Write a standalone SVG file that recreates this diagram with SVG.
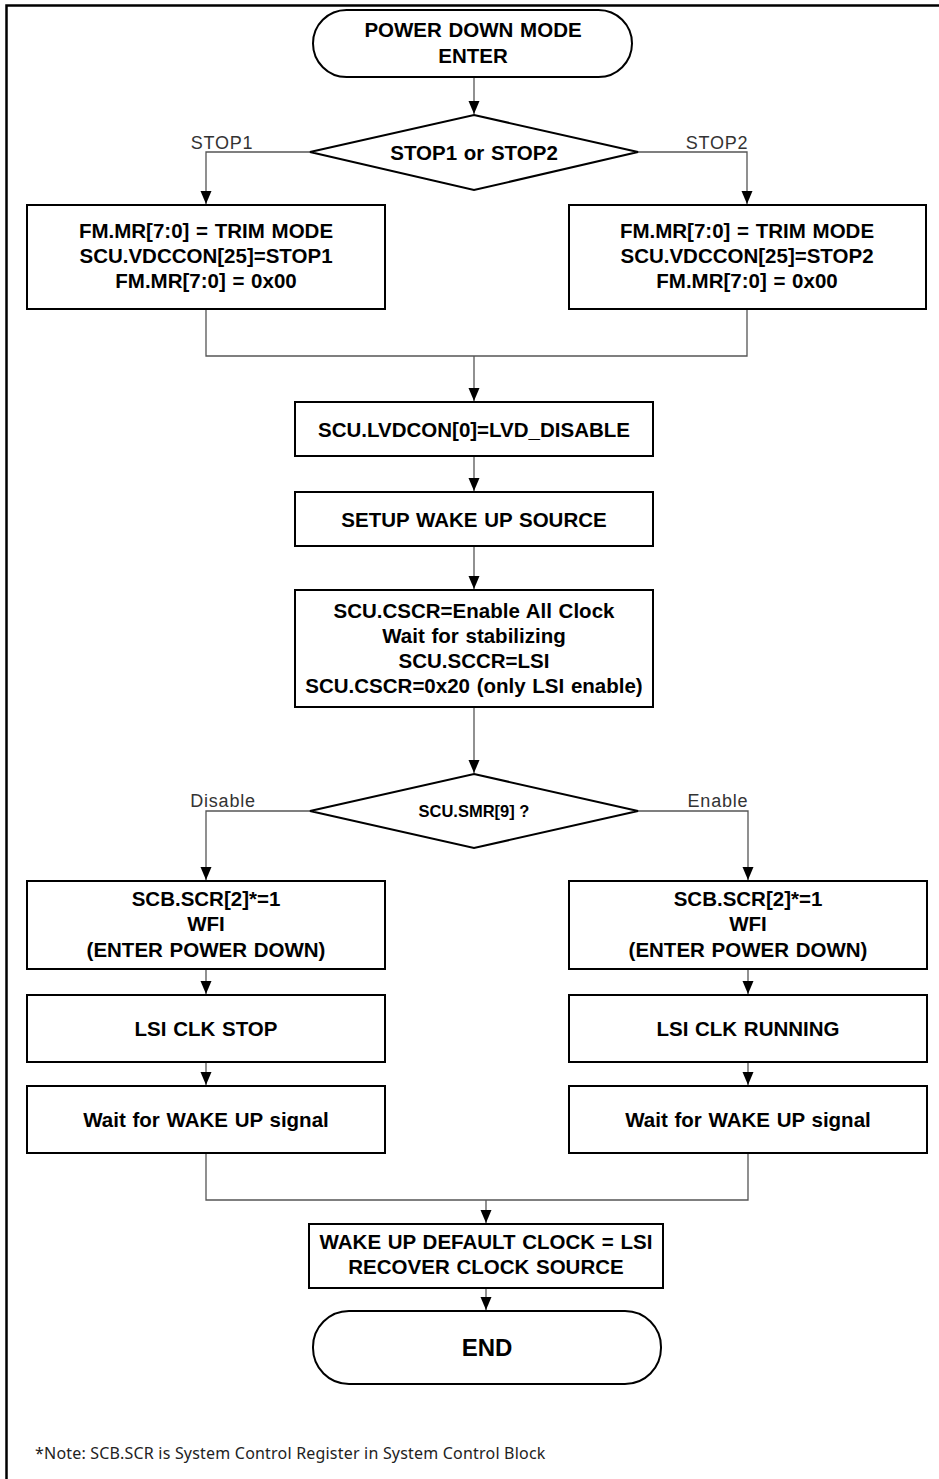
<svg xmlns="http://www.w3.org/2000/svg" width="939" height="1479" viewBox="0 0 939 1479">
<style>
.shape{fill:#fff;stroke:#000;stroke-width:2}
.t{font-family:"Liberation Sans",Arial,sans-serif;font-weight:bold;font-size:20.5px;word-spacing:1px;fill:#000;text-anchor:middle}
.ts{font-family:"Liberation Sans",Arial,sans-serif;font-weight:bold;font-size:16.5px;fill:#000;text-anchor:middle}
.lbl{font-family:"Liberation Sans","DejaVu Sans",sans-serif;font-size:18px;letter-spacing:0.8px;fill:#333;text-anchor:middle}
.note{font-family:"Noto Sans","Open Sans",sans-serif;font-size:16px;letter-spacing:0.2px;fill:#222}
.c{fill:none;stroke:#555;stroke-width:1.3}
</style>
<defs>
<marker id="ah" markerUnits="userSpaceOnUse" markerWidth="13" markerHeight="12" refX="13" refY="6" orient="auto" viewBox="0 0 13 12">
<path d="M0,0.5 L13,6 L0,11.5 Z" fill="#000"/>
</marker>
</defs>
<path d="M6.5,1479 V5.5 H939" fill="none" stroke="#000" stroke-width="2.5"/>

<g id="connectors">
<path class="c" d="M474,77 V114" marker-end="url(#ah)"/>
<path class="c" d="M310,152 H206 V204" marker-end="url(#ah)"/>
<path class="c" d="M638,152 H747 V204" marker-end="url(#ah)"/>
<path class="c" d="M206,309 V356 H747 V309"/>
<path class="c" d="M474,356 V401" marker-end="url(#ah)"/>
<path class="c" d="M474,456 V491" marker-end="url(#ah)"/>
<path class="c" d="M474,546 V589" marker-end="url(#ah)"/>
<path class="c" d="M474,707 V773" marker-end="url(#ah)"/>
<path class="c" d="M310,811 H206 V880" marker-end="url(#ah)"/>
<path class="c" d="M638,811 H748 V880" marker-end="url(#ah)"/>
<path class="c" d="M206,969 V994" marker-end="url(#ah)"/>
<path class="c" d="M748,969 V994" marker-end="url(#ah)"/>
<path class="c" d="M206,1062 V1085" marker-end="url(#ah)"/>
<path class="c" d="M748,1062 V1085" marker-end="url(#ah)"/>
<path class="c" d="M206,1153 V1200 H748 V1153"/>
<path class="c" d="M486,1200 V1223" marker-end="url(#ah)"/>
<path class="c" d="M486,1288 V1310" marker-end="url(#ah)"/>
</g>
<g id="labels">
<text class="lbl" x="222" y="149">STOP1</text>
<text class="lbl" x="717" y="149">STOP2</text>
<text class="lbl" x="223" y="807">Disable</text>
<text class="lbl" x="718" y="807">Enable</text>
</g>

<g id="start">
<rect class="shape" x="313" y="10" width="319" height="67" rx="33.5"/>
<text class="t" x="473" y="37">POWER DOWN MODE</text>
<text class="t" x="473" y="63">ENTER</text>
</g>
<g id="dec1">
<polygon class="shape" points="474,115 638,152 474,190 310,152"/>
<text class="t" x="474" y="160">STOP1 or STOP2</text>
</g>
<g id="stop1">
<rect class="shape" x="27" y="205" width="358" height="104"/>
<text class="t" x="206" y="238">FM.MR[7:0] = TRIM MODE</text>
<text class="t" x="206" y="263">SCU.VDCCON[25]=STOP1</text>
<text class="t" x="206" y="288">FM.MR[7:0] = 0x00</text>
</g>
<g id="stop2">
<rect class="shape" x="569" y="205" width="357" height="104"/>
<text class="t" x="747" y="238">FM.MR[7:0] = TRIM MODE</text>
<text class="t" x="747" y="263">SCU.VDCCON[25]=STOP2</text>
<text class="t" x="747" y="288">FM.MR[7:0] = 0x00</text>
</g>
<g id="lvd">
<rect class="shape" x="295" y="402" width="358" height="54"/>
<text class="t" x="474" y="437">SCU.LVDCON[0]=LVD_DISABLE</text>
</g>
<g id="setup">
<rect class="shape" x="295" y="492" width="358" height="54"/>
<text class="t" x="474" y="527">SETUP WAKE UP SOURCE</text>
</g>
<g id="clock">
<rect class="shape" x="295" y="590" width="358" height="117"/>
<text class="t" x="474" y="618">SCU.CSCR=Enable All Clock</text>
<text class="t" x="474" y="643">Wait for stabilizing</text>
<text class="t" x="474" y="668">SCU.SCCR=LSI</text>
<text class="t" x="474" y="693">SCU.CSCR=0x20 (only LSI enable)</text>
</g>
<g id="dec2">
<polygon class="shape" points="474,774 638,811 474,848 310,811"/>
<text class="ts" x="474" y="817">SCU.SMR[9] ?</text>
</g>
<g id="wfi1">
<rect class="shape" x="27" y="881" width="358" height="88"/>
<text class="t" x="206" y="906">SCB.SCR[2]*=1</text>
<text class="t" x="206" y="931">WFI</text>
<text class="t" x="206" y="957">(ENTER POWER DOWN)</text>
</g>
<g id="wfi2">
<rect class="shape" x="569" y="881" width="358" height="88"/>
<text class="t" x="748" y="906">SCB.SCR[2]*=1</text>
<text class="t" x="748" y="931">WFI</text>
<text class="t" x="748" y="957">(ENTER POWER DOWN)</text>
</g>
<g id="lsistop">
<rect class="shape" x="27" y="995" width="358" height="67"/>
<text class="t" x="206" y="1036">LSI CLK STOP</text>
</g>
<g id="lsirun">
<rect class="shape" x="569" y="995" width="358" height="67"/>
<text class="t" x="748" y="1036">LSI CLK RUNNING</text>
</g>
<g id="wait1">
<rect class="shape" x="27" y="1086" width="358" height="67"/>
<text class="t" x="206" y="1127">Wait for WAKE UP signal</text>
</g>
<g id="wait2">
<rect class="shape" x="569" y="1086" width="358" height="67"/>
<text class="t" x="748" y="1127">Wait for WAKE UP signal</text>
</g>
<g id="wake">
<rect class="shape" x="309" y="1224" width="354" height="64"/>
<text class="t" x="486" y="1249">WAKE UP DEFAULT CLOCK = LSI</text>
<text class="t" x="486" y="1274">RECOVER CLOCK SOURCE</text>
</g>
<g id="end">
<rect class="shape" x="313" y="1311" width="348" height="73" rx="36"/>
<text class="t" x="487" y="1356" style="font-size:24px">END</text>
</g>
<text class="note" x="35" y="1459">*Note: SCB.SCR is System Control Register in System Control Block</text>
</svg>
